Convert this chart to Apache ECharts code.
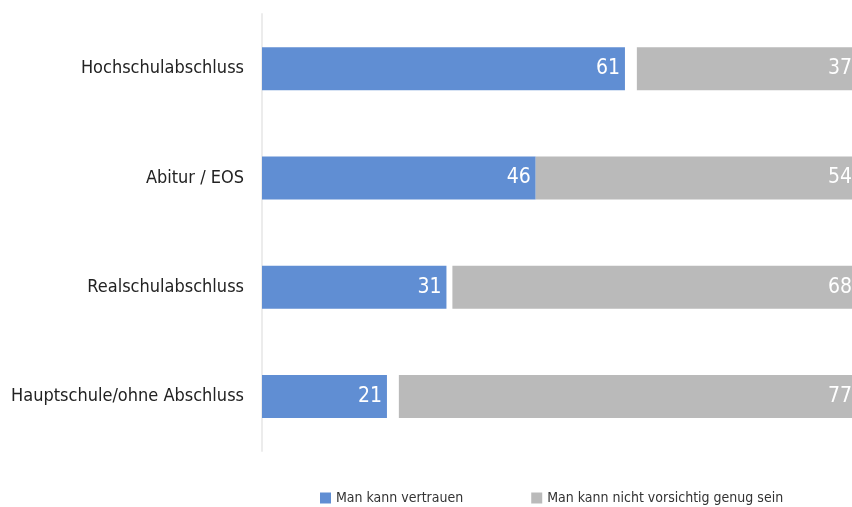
<!DOCTYPE html>
<html>
<head>
<meta charset="utf-8">
<script src="https://cdn.jsdelivr.net/npm/echarts@6/dist/echarts.min.js"></script>
<style>
  html, body { margin: 0; padding: 0; background: #fff; }
  #chart { width: 852px; height: 507px; }
</style>
</head>
<body>
<div id="chart"></div>
<script>
// Kategorien von unten nach oben (yAxis category)
const categories = ['Hauptschule/ohne Abschluss', 'Realschulabschluss', 'Abitur / EOS', 'Hochschulabschluss'];
const vertrauen = [21, 31, 46, 61];
const vorsichtig = [77, 68, 54, 37];
// Rest auf 100 (keine Angabe) – unsichtbare Lücke
const rest = [2, 1, 0, 2];
const seriesNames = ['Man kann vertrauen', 'Man kann nicht vorsichtig genug sein'];

const font = '"Liberation Sans Narrow", "DejaVu Sans Condensed", sans-serif';
const chart = echarts.init(document.getElementById('chart'));

const valueLabel = {
  show: true,
  position: 'insideRight',
  distance: 5,
  color: '#fff',
  fontFamily: font,
  fontSize: 21
};

chart.setOption({
  animation: false,
  textStyle: { fontFamily: font },
  grid: { left: 262, right: -5, top: 14, bottom: 56, containLabel: false, outerBoundsMode: 'none' },
  legend: {
    data: seriesNames,
    left: 315,
    top: 486,
    icon: 'rect',
    itemWidth: 11,
    itemHeight: 11,
    itemGap: 68,
    textStyle: { fontFamily: font, fontSize: 14, color: '#333' }
  },
  xAxis: {
    type: 'value',
    min: 0,
    max: 100,
    show: false
  },
  yAxis: {
    type: 'category',
    data: categories,
    axisLine: { show: true, lineStyle: { color: '#ececec', width: 2 } },
    axisTick: { show: false },
    axisLabel: { fontFamily: font, fontSize: 18, color: '#222', margin: 18 }
  },
  series: [
    {
      name: seriesNames[0],
      type: 'bar',
      stack: 'total',
      barWidth: 43,
      data: vertrauen,
      itemStyle: { color: '#608ed3' },
      label: valueLabel
    },
    {
      name: 'rest',
      type: 'bar',
      stack: 'total',
      data: rest,
      itemStyle: { color: 'rgba(0,0,0,0)' },
      silent: true
    },
    {
      name: seriesNames[1],
      type: 'bar',
      stack: 'total',
      data: vorsichtig,
      itemStyle: { color: '#bababa' },
      label: valueLabel
    }
  ]
});
</script>
</body>
</html>
